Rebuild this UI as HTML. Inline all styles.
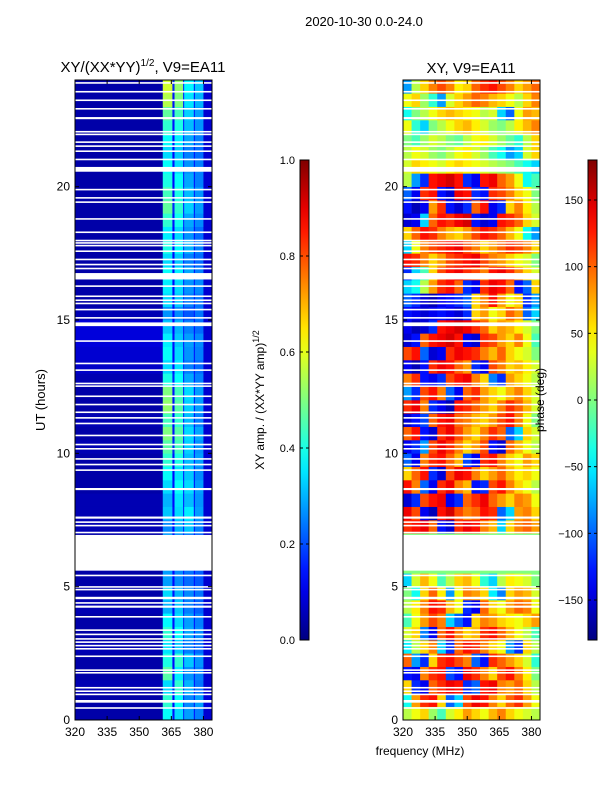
<!DOCTYPE html>
<html><head><meta charset="utf-8">
<style>
html,body{margin:0;padding:0;background:#fff;}
svg{display:block;font-family:"Liberation Sans","DejaVu Sans",sans-serif;}
</style></head>
<body>
<svg id="fig" width="600" height="800" viewBox="0 0 600 800">
<text x="364" y="26" text-anchor="middle" font-size="13">2020-10-30 0.0-24.0</text>
<text x="143" y="72" text-anchor="middle" font-size="15">XY/(XX*YY)<tspan font-size="10" dy="-6">1/2</tspan><tspan dy="6">, V9=EA11</tspan></text>
<text x="471" y="73" text-anchor="middle" font-size="15">XY, V9=EA11</text>
<g id="left"></g>
<g id="right"></g>
<g id="axes"></g>
<text transform="translate(45,400) rotate(-90)" text-anchor="middle" font-size="13">UT (hours)</text>
<text x="420" y="755" text-anchor="middle" font-size="12">frequency (MHz)</text>
<text transform="translate(264,400) rotate(-90)" text-anchor="middle" font-size="12">XY amp. / (XX*YY amp)<tspan font-size="9" dy="-5">1/2</tspan></text>
<text transform="translate(544,400) rotate(-90)" text-anchor="middle" font-size="12">phase (deg)</text>
</svg>
<script>
const hours = 24;
const ampChanEdges = [320,361,365.5,366.5,370.5,371,375.5,376,380,384];
const ampRows = [
[.04,.38,.14,.34,.16,.28,.14,.25,.08],[.04,.42,.13,.38,.15,.26,.15,.28,.09],
[.05,.34,.16,.42,.14,.30,.14,.24,.08],[.04,.46,.14,.36,.16,.27,.15,.25,.08],
[.04,.40,.13,.42,.15,.32,.14,.27,.08],[.05,.35,.15,.32,.16,.25,.15,.23,.09],
[.04,.42,.14,.38,.15,.29,.14,.26,.08],[.04,.37,.14,.34,.16,.28,.14,.25,.08],
[.05,.30,.13,.32,.15,.25,.15,.22,.08],[.04,.34,.14,.30,.15,.26,.14,.24,.08],
[.04,.28,.13,.26,.15,.23,.14,.21,.08],[.04,.28,.13,.26,.14,.24,.13,.22,.07],
[.04,.28,.13,.26,.14,.24,.13,.22,.07],[.04,.28,.13,.26,.14,.24,.13,.22,.07],
[.05,.26,.13,.30,.15,.32,.14,.25,.08],[.05,.32,.14,.34,.16,.36,.15,.28,.08],
[.05,.30,.13,.35,.15,.31,.14,.27,.08],[.04,.34,.14,.38,.16,.34,.14,.28,.08],
[.04,.38,.13,.35,.15,.32,.14,.26,.08],[.04,.42,.14,.40,.16,.31,.15,.28,.08],
[.05,.46,.16,.44,.15,.33,.14,.27,.08],[.04,.50,.14,.46,.16,.34,.15,.29,.08],
[.05,.44,.13,.42,.15,.31,.14,.25,.08],[.04,.52,.14,.46,.16,.33,.15,.28,.08],
[.04,.50,.14,.44,.15,.34,.14,.28,.08],[.05,.40,.16,.38,.15,.29,.15,.25,.08],
[.07,.34,.14,.35,.15,.25,.14,.23,.08],[.08,.38,.13,.34,.15,.27,.14,.25,.08],
[.09,.36,.14,.32,.15,.28,.14,.26,.08],[.09,.32,.13,.30,.15,.25,.14,.23,.08],
[.05,.27,.13,.26,.16,.21,.15,.24,.08],[.04,.34,.14,.32,.15,.25,.14,.24,.08],
[.04,.36,.13,.34,.16,.27,.15,.26,.08],[.04,.38,.14,.36,.15,.29,.14,.25,.08],
[.04,.34,.13,.32,.15,.25,.15,.23,.08],[.04,.40,.14,.37,.16,.30,.14,.25,.08],
[.04,.36,.13,.34,.15,.27,.14,.23,.08],[.04,.42,.14,.39,.16,.29,.15,.26,.08],
[.04,.47,.16,.42,.15,.33,.14,.28,.08],[.04,.44,.14,.40,.16,.31,.15,.27,.08],
[.04,.40,.13,.38,.15,.29,.14,.25,.08],[.04,.38,.14,.34,.15,.27,.14,.25,.08],
[.04,.34,.13,.32,.15,.25,.14,.23,.08],[.04,.38,.14,.36,.16,.29,.15,.25,.08],
[.04,.42,.14,.40,.15,.31,.14,.27,.08],[.04,.47,.16,.44,.16,.33,.15,.28,.08],
[.04,.55,.14,.50,.15,.35,.14,.30,.08],[.04,.58,.16,.52,.16,.37,.15,.32,.08]
];
const phaseChanEdges = [320,324,328,332,336,340,344,348,352,356,360,364,368,372,376,380,384];
const phaseRows = [
[20,40,60,10,-20,30,50,80,60,40,70,90,60,40,30,20],
[-40,80,120,130,60,-100,-60,110,140,130,90,60,100,120,80,40],
[60,-120,-140,100,120,140,130,-120,-100,130,140,90,80,100,60,20],
[-130,-140,90,120,130,-110,-130,140,120,90,60,110,130,90,50,0],
[100,-80,-120,60,120,130,110,90,-100,-130,120,100,80,60,30,-30],
[-50,20,60,90,-60,-120,100,130,120,90,60,40,-80,-120,60,20],
[30,60,-90,-140,100,130,90,60,70,120,130,100,70,40,20,-20],
[-20,40,80,110,90,-60,-100,-130,60,90,80,60,50,40,60,80],
[20,50,90,130,120,70,40,-120,-140,100,60,40,80,100,90,40],
[0,-40,60,100,50,-80,40,90,80,60,-50,-90,60,80,70,30],
[-60,30,70,40,-20,20,60,70,40,-30,-60,20,50,40,30,0],
[0,0,0,0,0,0,0,0,0,0,0,0,0,0,0,0],
[0,0,0,0,0,0,0,0,0,0,0,0,0,0,0,0],
[0,0,0,0,0,0,0,0,0,0,0,0,0,0,0,0],
[120,130,140,100,-130,-150,120,140,130,90,70,-60,60,90,100,80],
[140,110,-140,-160,130,150,110,90,100,130,120,-100,-60,80,90,60],
[-150,-120,110,130,140,-140,-120,100,120,140,100,80,60,90,80,40],
[130,90,-100,-140,120,140,90,70,-130,-120,110,130,90,60,40,20],
[60,100,130,-120,-150,110,140,130,90,60,80,100,70,50,60,40],
[-100,-140,90,120,130,100,70,-110,-140,120,130,90,60,40,80,60],
[-140,-120,-80,110,140,120,90,60,80,110,-130,-150,100,70,40,20],
[100,130,-130,-150,120,140,110,80,60,90,120,100,-100,-60,60,30],
[-150,-130,-110,100,130,140,100,90,70,60,80,110,130,90,40,0],
[120,140,90,-120,-140,-160,130,120,100,80,60,90,120,100,70,30],
[-80,-120,110,130,90,-100,-140,100,120,80,60,40,70,90,60,30],
[90,120,-130,-140,-120,110,130,140,90,60,-90,-120,80,60,40,20],
[-140,-160,-130,120,140,130,100,80,-120,-140,110,90,60,70,50,30],
[110,130,-100,-150,-140,120,140,130,120,90,70,100,60,40,30,0],
[-150,-130,100,130,140,150,130,-140,-150,120,110,80,60,90,40,-20],
[-140,-160,-150,-120,130,140,150,140,120,100,60,80,70,50,30,0],
[-130,-140,-150,-140,-130,-140,-150,-120,60,80,40,60,100,80,-100,-60],
[-100,-120,-150,-160,-140,-130,-120,-100,60,90,130,80,40,60,-120,-80],
[-60,-40,20,80,120,130,100,-120,-140,120,140,130,100,-130,-100,60],
[-120,-60,-20,60,110,130,140,120,110,90,130,140,120,90,60,30],
[130,120,90,60,80,110,120,130,140,110,90,80,60,40,30,0],
[-60,40,90,110,120,130,140,110,90,60,80,100,120,110,90,60],
[60,100,130,120,90,70,60,80,110,130,120,100,70,40,-40,-80],
[-150,-140,-60,100,130,120,140,150,-130,-150,-140,130,120,100,60,30],
[-130,-160,-140,80,120,-130,-150,-120,100,130,-140,-120,60,90,50,20],
[-100,-140,120,130,-130,-150,140,130,-120,-130,120,110,90,60,40,0],
[20,-80,-120,130,140,150,130,-120,-140,130,140,100,80,40,-40,-20],
[30,60,50,40,30,50,60,50,40,30,20,10,0,-20,-40,-60],
[20,40,30,10,0,20,40,50,30,10,-20,-40,-80,-60,30,60],
[0,-20,10,30,20,0,-10,20,40,50,30,10,-10,-30,20,60],
[40,-30,-60,0,20,40,60,70,50,30,10,0,20,50,70,90],
[-40,0,20,40,60,70,60,50,40,20,30,-60,-100,40,80,70],
[40,60,10,-30,-80,30,60,80,100,90,70,60,40,20,60,90],
[-80,20,60,90,110,90,50,60,100,120,130,110,90,60,80,100]
];
const flagStarts = [0.42,0.65,0.93,1.05,1.18,1.74,1.84,2.36,2.64,2.76,2.89,3.01,3.18,3.34,3.84,4.21,4.36,4.53,4.86,4.96,5.39,5.6,7.0,7.26,7.39,7.55,8.62,9.34,9.55,9.76,10.14,10.3,10.64,11.09,11.3,11.51,11.8,12.11,12.49,12.59,13.09,13.34,14.18,14.77,15.05,15.36,15.59,15.71,15.86,16.24,16.52,16.9,17.05,17.24,17.55,17.76,17.86,17.95,18.26,18.76,19.39,19.55,19.86,20.56,20.99,21.3,21.49,21.64,21.93,22.03,22.53,22.89,23.21,23.53,23.86];
const flagEnds   = [0.48,0.75,0.99,1.11,1.24,1.8,1.9,2.42,2.7,2.82,2.95,3.07,3.24,3.4,3.9,4.29,4.42,4.62,4.92,5.02,5.45,6.94,7.06,7.32,7.45,7.63,8.7,9.4,9.61,9.82,10.2,10.36,10.7,11.15,11.36,11.57,11.86,12.17,12.55,12.65,13.15,13.4,14.24,14.91,15.11,15.42,15.65,15.77,15.92,16.3,16.76,16.96,17.11,17.3,17.61,17.82,17.92,18.01,18.32,18.82,19.45,19.61,19.92,20.74,21.05,21.36,21.55,21.7,21.99,22.09,22.61,22.95,23.27,23.59,23.92];
const yTicks = [0,5,10,15,20];
const xTicks = [320,335,350,365,380];
const ampTicks = [0.0,0.2,0.4,0.6,0.8,1.0];
const phaseTicks = [-150,-100,-50,0,50,100,150];

const NS='http://www.w3.org/2000/svg';
const Y0=720, Y1=80;
function yScale(h){return Y0-(h/hours)*(Y0-Y1);}
function xScaleL(f){return 75+(f-320)*137/64;}
function xScaleR(f){return 403+(f-320)*137/64;}
function cl(v){return Math.max(0,Math.min(1,v));}
function jet(v){
  v=cl(v);
  const r=cl(1.5-Math.abs(4*v-3)),g=cl(1.5-Math.abs(4*v-2)),b=cl(1.5-Math.abs(4*v-1));
  return 'rgb('+Math.round(r*255)+','+Math.round(g*255)+','+Math.round(b*255)+')';
}
function mk(tag,attrs,parent){const e=document.createElementNS(NS,tag);for(const k in attrs)e.setAttribute(k,attrs[k]);parent.appendChild(e);return e;}
const svg=document.getElementById('fig');
function drawHeat(g,rows,edges,xs,norm){
  const dh=hours/rows.length;
  rows.forEach((row,i)=>{
    const ya=yScale((i+1)*dh), yb=yScale(i*dh);
    row.forEach((v,j)=>{
      const xa=xs(edges[j]), xb=xs(edges[j+1]);
      const r=mk('rect',{x:xa,y:ya-0.3,width:xb-xa+0.3,height:yb-ya+0.6,fill:jet(norm(v))},g);
      
      
    });
  });
  flagStarts.forEach((s,k)=>{
    const ya=yScale(flagEnds[k]), yb=yScale(s);
    const r=mk('rect',{x:xs(320),y:ya,width:137,height:Math.max(1.6,yb-ya),fill:'#fff'},g);
    
    
  });
}
drawHeat(document.getElementById('left'),ampRows,ampChanEdges,xScaleL,v=>v);
drawHeat(document.getElementById('right'),phaseRows,phaseChanEdges,xScaleR,v=>(v+180)/360);

const ax=document.getElementById('axes');
[[75,xScaleL],[403,xScaleR]].forEach(([x0,xs])=>{
  const f=mk('rect',{x:x0,y:80,width:137,height:640,fill:'none',stroke:'#000','stroke-width':1},ax);
  
  
  yTicks.forEach(t=>{
    const y=yScale(t);
    mk('line',{x1:x0,x2:x0+4,y1:y,y2:y,stroke:'#000'},ax);
    mk('line',{x1:x0+137,x2:x0+133,y1:y,y2:y,stroke:'#000'},ax);
    const tx=mk('text',{x:x0-5,y:y+4,'text-anchor':'end','font-size':12},ax);
    tx.textContent=t;
    
    
  });
  xTicks.forEach(t=>{
    const x=xs(t);
    mk('line',{x1:x,x2:x,y1:720,y2:716,stroke:'#000'},ax);
    mk('line',{x1:x,x2:x,y1:80,y2:84,stroke:'#000'},ax);
    const tx=mk('text',{x:x,y:736,'text-anchor':'middle','font-size':12},ax);
    tx.textContent=t;
    
    
  });
});
const defs=mk('defs',{},svg);
const gr=mk('linearGradient',{id:'jetg',x1:0,y1:1,x2:0,y2:0},defs);
for(let i=0;i<=20;i++)mk('stop',{offset:i/20,'stop-color':jet(i/20)},gr);
[[300,ampTicks,v=>640-v*480,v=>v.toFixed(1),'amp-colorbar'],[588,phaseTicks,v=>400-v*480/360,v=>v<0?'\u2212'+(-v):''+v,'phase-colorbar']].forEach(([x0,ticks,ys,fmt,nm])=>{
  const r=mk('rect',{x:x0,y:160,width:9,height:480,fill:'url(#jetg)',stroke:'#000','stroke-width':1},svg);
  
  
  ticks.forEach(t=>{
    const y=ys(t);
    mk('line',{x1:x0,x2:x0+3,y1:y,y2:y,stroke:'#000'},svg);
    mk('line',{x1:x0+9,x2:x0+6,y1:y,y2:y,stroke:'#000'},svg);
    const tx=mk('text',{x:x0-5,y:y+4,'text-anchor':'end','font-size':11},svg);
    tx.textContent=fmt(t);
    
    
  });
});
</script>
</body></html>
